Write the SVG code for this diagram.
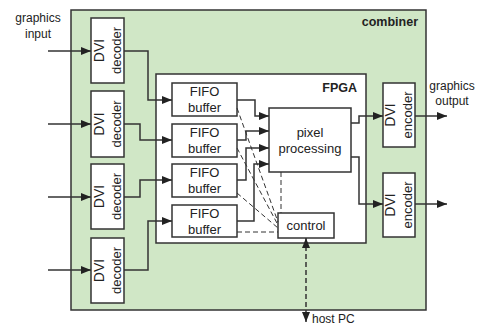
<svg xmlns="http://www.w3.org/2000/svg" width="479" height="326" viewBox="0 0 479 326">
<defs>
<marker id="ah" markerWidth="10" markerHeight="8" refX="10" refY="4" orient="auto" markerUnits="userSpaceOnUse"><path d="M0,0 L10,4 L0,8 Z" fill="#222"/></marker>
<marker id="ahs" markerWidth="10" markerHeight="8" refX="0" refY="4" orient="auto" markerUnits="userSpaceOnUse"><path d="M10,0 L0,4 L10,8 Z" fill="#222"/></marker>
</defs>
<style>
text{font-family:"Liberation Sans",Arial,sans-serif;fill:#222}
.lbl{font-size:12px;text-anchor:middle}
.box{fill:#fff;stroke:#333;stroke-width:1.5}
.t13{font-size:13px;text-anchor:middle}
.dvi{font-size:14px}
.bold{font-weight:bold;font-size:12.5px;text-anchor:end}
.c{fill:none;stroke:#333;stroke-width:1.5}
.a{marker-end:url(#ah)}
.d{fill:none;stroke:#333;stroke-width:1;stroke-dasharray:5,3}
</style>
<g id="combiner"><rect x="71" y="10" width="355" height="300" fill="#d0e7c6" stroke="#333" stroke-width="1.5"/><text class="bold" x="418" y="26">combiner</text></g>
<g id="fpga"><rect x="156" y="74" width="210" height="169" class="box"/><text class="bold" x="357" y="92">FPGA</text></g>
<g id="dec1"><rect x="91" y="18" width="33" height="65" class="box"/><text class="t13" transform="translate(107.5,50.5) rotate(-90)"><tspan class="dvi" x="0" y="-4">DVI</tspan><tspan x="0" y="13">decoder</tspan></text></g>
<g id="dec2"><rect x="91" y="91" width="33" height="66" class="box"/><text class="t13" transform="translate(107.5,124) rotate(-90)"><tspan class="dvi" x="0" y="-4">DVI</tspan><tspan x="0" y="13">decoder</tspan></text></g>
<g id="dec3"><rect x="91" y="164" width="33" height="65" class="box"/><text class="t13" transform="translate(107.5,196.5) rotate(-90)"><tspan class="dvi" x="0" y="-4">DVI</tspan><tspan x="0" y="13">decoder</tspan></text></g>
<g id="dec4"><rect x="91" y="238" width="33" height="65" class="box"/><text class="t13" transform="translate(107.5,270.5) rotate(-90)"><tspan class="dvi" x="0" y="-4">DVI</tspan><tspan x="0" y="13">decoder</tspan></text></g>
<g id="fifo1"><rect x="172" y="83" width="65" height="33" class="box"/><text class="t13" x="204.5" y="96">FIFO</text><text class="t13" x="204.5" y="112">buffer</text></g>
<g id="fifo2"><rect x="172" y="124" width="65" height="33" class="box"/><text class="t13" x="204.5" y="137">FIFO</text><text class="t13" x="204.5" y="153">buffer</text></g>
<g id="fifo3"><rect x="172" y="164" width="65" height="33" class="box"/><text class="t13" x="204.5" y="177">FIFO</text><text class="t13" x="204.5" y="193">buffer</text></g>
<g id="fifo4"><rect x="172" y="205" width="65" height="32" class="box"/><text class="t13" x="204.5" y="218">FIFO</text><text class="t13" x="204.5" y="234">buffer</text></g>
<g id="pixel"><rect x="269" y="108" width="82" height="64" class="box"/><text class="t13" x="310" y="137">pixel</text><text class="t13" x="310" y="153">processing</text></g>
<g id="control"><rect x="278" y="213" width="56" height="25" class="box"/><text class="t13" x="306" y="230">control</text></g>
<g id="enc1"><rect x="383" y="83" width="32" height="64" class="box"/><text class="t13" transform="translate(399,115) rotate(-90)"><tspan class="dvi" x="0" y="-4">DVI</tspan><tspan x="0" y="13">encoder</tspan></text></g>
<g id="enc2"><rect x="383" y="173" width="32" height="64" class="box"/><text class="t13" transform="translate(399,205) rotate(-90)"><tspan class="dvi" x="0" y="-4">DVI</tspan><tspan x="0" y="13">encoder</tspan></text></g>
<g id="labels">
<text class="lbl" x="38" y="22">graphics</text><text class="lbl" x="38" y="38">input</text>
<text class="lbl" x="452" y="90">graphics</text><text class="lbl" x="452" y="105">output</text>
<text x="312" y="323" style="font-size:12px">host PC</text>
</g>
<g id="connectors">
<path class="c a" d="M48,51 H91"/>
<path class="c a" d="M48,124 H91"/>
<path class="c a" d="M48,197 H91"/>
<path class="c a" d="M48,270 H91"/>
<path class="c a" d="M124,51 H148 V100 H172"/>
<path class="c a" d="M124,124 H140 V140 H172"/>
<path class="c a" d="M124,197 H140 V180 H172"/>
<path class="c a" d="M124,270 H148 V221 H172"/>
<path class="c a" d="M237,100 H255 V116 H269"/>
<path class="c a" d="M237,140 H246 V131 H269"/>
<path class="c a" d="M237,180 H246 V148 H269"/>
<path class="c a" d="M237,221 H254 V164 H269"/>
<path class="c a" d="M351,123 H359 V116 H383"/>
<path class="c a" d="M351,157 H359 V204 H383"/>
<path class="c a" d="M415,116 H447"/>
<path class="c a" d="M415,204 H447"/>
<path class="d" d="M237,108 L278,222"/>
<path class="d" d="M237,148 L278,225"/>
<path class="d" d="M237,193 L278,228"/>
<path class="d" d="M237,232 H278"/>
<path class="d" d="M281,172 V213"/>
<path class="d" d="M306,238 V322" marker-start="url(#ahs)" marker-end="url(#ah)" style="stroke-width:1.5"/>
</g>
</svg>
